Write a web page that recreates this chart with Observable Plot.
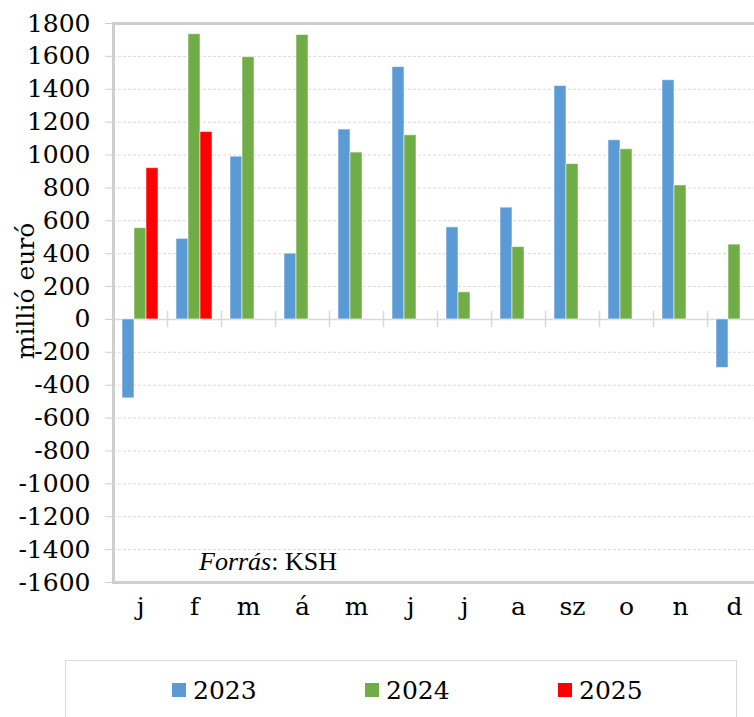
<!DOCTYPE html>
<html>
<head>
<meta charset="utf-8">
<script src="https://cdn.jsdelivr.net/npm/d3@7"></script>
<script src="https://cdn.jsdelivr.net/npm/@observablehq/plot@0.6"></script>
<style>
  html, body { margin: 0; padding: 0; background: #fff; overflow: hidden; }
  #wrap { position: relative; width: 754px; height: 717px; overflow: hidden; }
  #chart { position: absolute; left: 0; top: 0; width: 770px; }
  #chart svg { max-width: none !important; }
  #caption { position: absolute; left: 199px; top: 549px; font-family: "Liberation Serif", serif; font-size: 26px; line-height: 26px; color: #000; white-space: nowrap; }
  #legend { position: absolute; left: 65px; top: 660px; width: 672px; height: 70px; border: 1px solid #d9d9d9; border-bottom: none; box-sizing: border-box; }
  #legend .items { position: absolute; left: 106px; top: 14px; display: flex; height: 30px; }
  #legend .item { display: flex; align-items: center; width: 193px; font-family: "DejaVu Serif", serif; font-size: 25px; color: #000; }
  #legend .sw { width: 14px; height: 14px; margin-right: 7px; }
</style>
</head>
<body>
<div id="wrap">
  <div id="chart"></div>
  <div id="caption"><i>Forrás</i>: KSH</div>
  <div id="legend"><div class="items"></div></div>
</div>
<script>
const months = ["j", "f", "m", "á", "m", "j", "j", "a", "sz", "o", "n", "d"];
const years = ["2023", "2024", "2025"];
const colors = ["#5b9bd5", "#70ad47", "#ff0000"];
const values2023 = [-480, 490, 990, 400, 1155, 1535, 560, 680, 1420, 1090, 1455, -295];
const values2024 = [555, 1735, 1595, 1730, 1015, 1120, 165, 440, 945, 1035, 815, 455];
const values2025 = [920, 1140];
const yTicks = [-1600, -1400, -1200, -1000, -800, -600, -400, -200, 0, 200, 400, 600, 800, 1000, 1200, 1400, 1600, 1800];
const yLabel = "millió euró";

const series = [values2023, values2024, values2025];
const rows = series.map((vals, s) => vals.map((v, i) => ({i, year: years[s], value: v})));
const idx = months.map((_, i) => i);

const insets = [[9, 33], [21, 21], [33, 9]];

const chart = Plot.plot({
  width: 770,
  height: 640,
  marginLeft: 113,
  marginRight: 9,
  marginTop: 23,
  marginBottom: 58,
  style: {fontFamily: "DejaVu Serif, serif", fontSize: "25px", color: "#000", background: "transparent", maxWidth: "none"},
  x: {type: "band", domain: idx, padding: 0},
  y: {domain: [-1600, 1800]},
  marks: [
    Plot.gridY(yTicks, {stroke: "#d9d9d9", strokeOpacity: 1, strokeDasharray: "3,2"}),
    Plot.ruleY([0], {stroke: "#d9d9d9", strokeWidth: 1.5}),
    Plot.ruleX(idx, {x: d => d, dx: -27, y1: -50, y2: 50, stroke: "#d9d9d9", strokeWidth: 1.5}),
    ...rows.map((r, s) => Plot.barY(r, {
      x: "i", y: "value", fill: colors[s],
      insetLeft: insets[s][0], insetRight: insets[s][1],
      stroke: "white", strokeOpacity: 0.55, strokeWidth: 1
    })),
    Plot.axisY(yTicks, {tickSize: 8, tickPadding: 15, stroke: "#cfcfcf", fill: "#000", fontSize: 25, tickFormat: d => String(d), label: null}),
    Plot.axisX({tickSize: 0, tickPadding: 15, fontSize: 25, tickFormat: i => months[i], label: null}),
    Plot.text([yLabel], {frameAnchor: "left", rotate: -90, textAnchor: "middle", lineAnchor: "middle", dx: -88, dy: -12, fontSize: 25, fill: "#000"}),
    Plot.frame({stroke: "#cfcfcf", strokeWidth: 3})
  ]
});
chart.style.maxWidth = "none";
document.getElementById("chart").appendChild(chart);

const items = document.querySelector("#legend .items");
years.forEach((y, s) => {
  const it = document.createElement("div");
  it.className = "item";
  const sw = document.createElement("span");
  sw.className = "sw";
  sw.style.background = colors[s];
  it.appendChild(sw);
  it.appendChild(document.createTextNode(y));
  items.appendChild(it);
});
</script>
</body>
</html>
